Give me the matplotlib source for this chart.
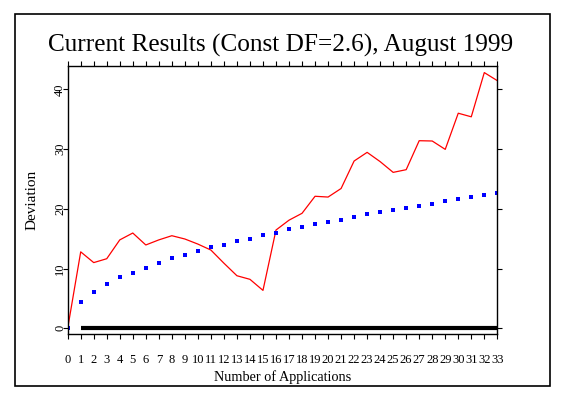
import matplotlib
matplotlib.use("Agg")
import matplotlib.pyplot as plt
from matplotlib.patches import Rectangle

applications = list(range(0, 34))
deviation = [0, 12.8, 11.0, 11.65, 14.8, 15.95, 13.95, 14.8, 15.5, 14.95, 14.1,
             13.1, 10.9, 8.8, 8.2, 6.35, 16.45, 18.1, 19.25, 22.1, 21.97, 23.4,
             28.0, 29.45, 27.9, 26.1, 26.55, 31.4, 31.35, 29.95, 36.0, 35.4,
             42.8, 41.45]
expected = [0, 4.35, 6.07, 7.36, 8.53, 9.2, 10.04, 11.0, 11.7, 12.2, 12.9,
            13.55, 14.0, 14.55, 14.9, 15.6, 15.9, 16.57, 16.9, 17.4, 17.85,
            18.2, 18.7, 19.1, 19.4, 19.75, 20.1, 20.5, 20.75, 21.25, 21.7,
            21.9, 22.26, 22.6]
zero_x = [1, 33]
zero_y = [0, 0]
xticks = list(range(0, 34))
yticks = [0, 10, 20, 30, 40]

plt.rcParams['font.family'] = ['Liberation Serif', 'DejaVu Serif']

fig = plt.figure(figsize=(5.65, 3.99), dpi=100)
fig.patches.append(Rectangle((0.026, 0.0326), 0.9475, 0.9324, transform=fig.transFigure,
                             fill=False, edgecolor='black', linewidth=1.2))
ax = fig.add_axes([0.1198, 0.1629, 0.7604, 0.6724])

ax.plot(zero_x, zero_y, color='black', linewidth=3, solid_capstyle='butt')
ax.plot(applications, deviation, color='red', linewidth=0.9)
ax.plot(applications, expected, linestyle='none', marker='s', markersize=3,
        color='blue', markeredgewidth=0)

ax.set_xlim(0, 33)
ax.set_ylim(-0.95, 43.95)
ax.set_xticks(xticks)
ax.set_xticklabels([str(v) for v in xticks], fontsize=9)
ax.set_yticks(yticks)
ax.set_yticklabels([str(v) for v in yticks], fontsize=9, rotation=90, va='center')
ax.tick_params(axis='both', direction='out', length=3.6, width=0.8, top=True, right=True,
               labeltop=False, labelright=False)
ax.tick_params(axis='x', pad=11)
ax.tick_params(axis='y', pad=-2.5)
for s in ax.spines.values():
    s.set_linewidth(1.0)

ax.set_xlabel('Number of Applications', fontsize=10.3, labelpad=3)
ax.set_ylabel('Deviation', fontsize=11, labelpad=11.5)
fig.text(0.497, 0.885, 'Current Results (Const DF=2.6), August 1999', fontsize=18.2,
         ha='center', va='center')

fig.savefig('out.png', dpi=100)
